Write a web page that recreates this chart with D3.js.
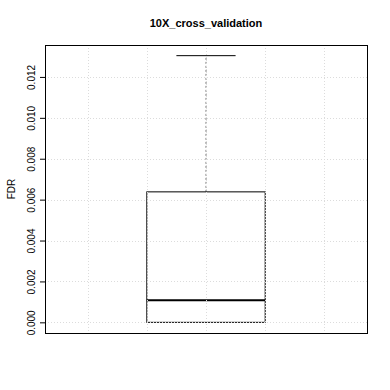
<!DOCTYPE html>
<html>
<head>
<meta charset="utf-8">
<script src="https://cdn.jsdelivr.net/npm/d3@7"></script>
<style>
  body { margin: 0; background: #fff; }
  svg { display: block; font-family: "Liberation Sans", Arial, sans-serif; }
</style>
</head>
<body>
<script>
// box summary
const categories = ["10X_cross_validation"];
const boxLow = [0.0];
const boxQ1 = [0.0];
const boxMedian = [0.00108];
const boxQ3 = [0.00638];
const boxHigh = [0.01304];
const yTicks = [0, 0.002, 0.004, 0.006, 0.008, 0.010, 0.012];
const gridX = [-2, -1, 0, 1, 2];

const width = 390, height = 390;
const margin = { top: 45, right: 23, bottom: 57, left: 45 };

const svg = d3.select("body").append("svg")
    .attr("width", width)
    .attr("height", height);

const x = d3.scaleLinear()
    .domain([-2.72, 2.72])
    .range([margin.left, width - margin.right]);

// R-style 4% padding on the data range
const yMax = d3.max(boxHigh), yMin = d3.min(boxLow);
const pad = (yMax - yMin) * 0.04;
const y = d3.scaleLinear()
    .domain([yMin - pad, yMax + pad])
    .range([height - margin.bottom, margin.top]);

// title
svg.append("text")
    .attr("x", x(0))
    .attr("y", 27)
    .attr("text-anchor", "middle")
    .style("font-size", "11px")
    .style("font-weight", "bold")
    .text(categories[0]);

// y axis label
svg.append("text")
    .attr("transform", `translate(15,${(margin.top + height - margin.bottom) / 2}) rotate(-90)`)
    .attr("text-anchor", "middle")
    .style("font-size", "10px")
    .text("FDR");

// box (drawn before the grid, like grid() after boxplot() in R)
const boxes = svg.append("g").attr("id", "boxes");
categories.forEach((c, i) => {
    boxes.append("line")
        .attr("x1", x(0)).attr("x2", x(0))
        .attr("y1", y(boxQ3[i])).attr("y2", y(boxHigh[i]))
        .attr("stroke", "#777")
        .attr("stroke-dasharray", "2,2");
    boxes.append("line")
        .attr("x1", x(-0.5)).attr("x2", x(0.5))
        .attr("y1", y(boxHigh[i])).attr("y2", y(boxHigh[i]))
        .attr("stroke", "#000");
    boxes.append("rect")
        .attr("x", x(-1))
        .attr("y", y(boxQ3[i]))
        .attr("width", x(1) - x(-1))
        .attr("height", y(boxQ1[i]) - y(boxQ3[i]))
        .attr("fill", "none")
        .attr("stroke", "#000");
    boxes.append("line")
        .attr("x1", x(-1)).attr("x2", x(1))
        .attr("y1", y(boxMedian[i])).attr("y2", y(boxMedian[i]))
        .attr("stroke", "#000")
        .attr("stroke-width", 2.2);
});

// grid on top
const grid = svg.append("g").attr("id", "grid");
grid.selectAll(".grid-h")
    .data(yTicks)
    .enter()
    .append("line")
    .attr("x1", margin.left).attr("x2", width - margin.right)
    .attr("y1", (d) => Math.round(y(d)) + 0.5).attr("y2", (d) => Math.round(y(d)) + 0.5)
    .attr("stroke", "#dcdcdc")
    .attr("stroke-dasharray", "1,2");
grid.selectAll(".grid-v")
    .data(gridX)
    .enter()
    .append("line")
    .attr("x1", (d) => Math.round(x(d)) + 0.5).attr("x2", (d) => Math.round(x(d)) + 0.5)
    .attr("y1", margin.top).attr("y2", height - margin.bottom)
    .attr("stroke", "#dcdcdc")
    .attr("stroke-dasharray", "1,2");

// y axis
const yAxis = svg.append("g")
    .attr("transform", `translate(${margin.left},0)`)
    .call(d3.axisLeft(y).tickValues(yTicks).tickSize(5).tickFormat(d3.format(".3f")));
yAxis.select(".domain").remove();
yAxis.selectAll("line").attr("stroke", "#000");
yAxis.selectAll("text")
    .attr("transform", `translate(-14,0) rotate(-90)`)
    .attr("x", 0)
    .attr("dy", "0.35em")
    .attr("text-anchor", "middle")
    .attr("fill", "#000")
    .style("font-size", "10px")
    .style("font-family", "'Liberation Sans', Arial, sans-serif");

// frame
svg.append("rect")
    .attr("x", margin.left + 0.5)
    .attr("y", margin.top + 0.5)
    .attr("width", width - margin.right - margin.left)
    .attr("height", height - margin.bottom - margin.top)
    .attr("fill", "none")
    .attr("stroke", "#000");
</script>
</body>
</html>
